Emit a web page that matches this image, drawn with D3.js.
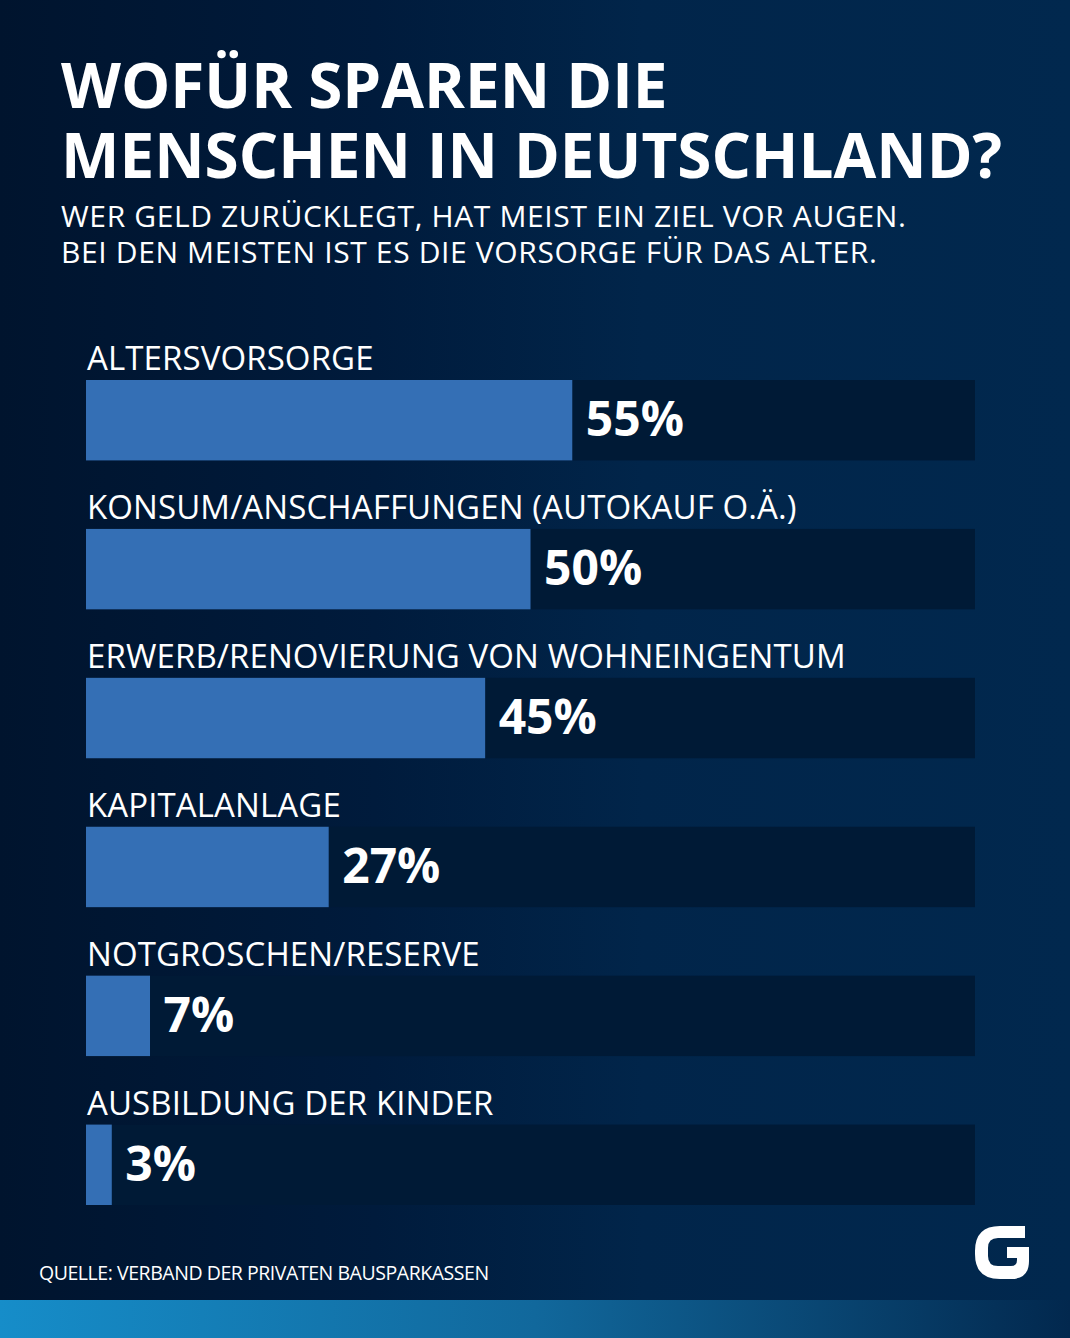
<!DOCTYPE html>
<html>
<head>
<meta charset="utf-8">
<script src="https://cdn.jsdelivr.net/npm/d3@7"></script>
<style>
html, body { margin: 0; padding: 0; background: #00152f; }
svg { display: block; }
text { font-family: "Open Sans", sans-serif; fill: #fff; }
</style>
</head>
<body>
<svg id="chart"></svg>
<script>
const categories = [
    "ALTERSVORSORGE",
    "KONSUM/ANSCHAFFUNGEN (AUTOKAUF O.Ä.)",
    "ERWERB/RENOVIERUNG VON WOHNEINGENTUM",
    "KAPITALANLAGE",
    "NOTGROSCHEN/RESERVE",
    "AUSBILDUNG DER KINDER"
];
// printed percentages
const values = [55, 50, 45, 27, 7, 3];
// bar lengths as they measure in the picture, they differ a little from the printed numbers
const barLengths = [54.7, 50, 44.9, 27.3, 7.2, 2.9];
const titleLines = ["WOFÜR SPAREN DIE", "MENSCHEN IN DEUTSCHLAND?"];
const subtitleLines = [
    "WER GELD ZURÜCKLEGT, HAT MEIST EIN ZIEL VOR AUGEN.",
    "BEI DEN MEISTEN IST ES DIE VORSORGE FÜR DAS ALTER."
];
const source = "QUELLE: VERBAND DER PRIVATEN BAUSPARKASSEN";

const width = 1070, height = 1338;
const svg = d3.select("#chart").attr("width", width).attr("height", height);
const defs = svg.append("defs");

const bg = defs.append("linearGradient").attr("id", "bg");
bg.append("stop").attr("offset", "0%").attr("stop-color", "#00142e");
bg.append("stop").attr("offset", "35%").attr("stop-color", "#001b3c");
bg.append("stop").attr("offset", "60%").attr("stop-color", "#01254a");
bg.append("stop").attr("offset", "100%").attr("stop-color", "#01284e");

const strip = defs.append("linearGradient").attr("id", "strip");
strip.append("stop").attr("offset", "0%").attr("stop-color", "#168dc9");
strip.append("stop").attr("offset", "50%").attr("stop-color", "#11689c");
strip.append("stop").attr("offset", "100%").attr("stop-color", "#02284e");

svg.append("rect").attr("width", width).attr("height", height).attr("fill", "url(#bg)");
svg.append("rect").attr("y", 1300).attr("width", width).attr("height", 38).attr("fill", "url(#strip)");

// heading
svg.append("g").selectAll("text").data(titleLines).join("text")
    .attr("x", 61)
    .attr("y", (d, i) => 107.5 + i * 70.5)
    .attr("font-size", 62)
    .attr("font-weight", 700)
    .text(d => d);

svg.append("g").selectAll("text").data(subtitleLines).join("text")
    .attr("x", 61)
    .attr("y", (d, i) => 227 + i * 36)
    .attr("font-size", 30)
    .attr("letter-spacing", 0.63)
    .text(d => d);

// bars
const x = d3.scaleLinear().domain([0, 100]).range([86, 975]);
const y = d3.scaleBand().domain(categories).range([380, 1205]).paddingInner(0.46).paddingOuter(0);

const rows = svg.append("g").selectAll("g").data(categories).join("g")
    .attr("transform", d => "translate(0," + y(d) + ")");

rows.append("rect")
    .attr("x", x(0))
    .attr("width", x(100) - x(0))
    .attr("height", y.bandwidth())
    .attr("fill", "#001a36");

rows.append("rect")
    .attr("x", x(0))
    .attr("width", (d, i) => x(barLengths[i]) - x(0))
    .attr("height", y.bandwidth())
    .attr("fill", "#346fb5");

rows.append("text")
    .attr("x", x(0) + 1)
    .attr("y", -10)
    .attr("font-size", 33)
    .attr("letter-spacing", 0.1)
    .text(d => d);

rows.append("text")
    .attr("x", (d, i) => x(barLengths[i]) + 13.5)
    .attr("y", 56)
    .attr("font-size", 48)
    .attr("font-weight", 700)
    .text((d, i) => values[i] + "%");

// footer
svg.append("text")
    .attr("x", 39)
    .attr("y", 1280)
    .attr("font-size", 19.5)
    .attr("letter-spacing", -0.45)
    .text(source);

// logo
svg.append("path")
    .attr("d", "M1025 1226H1000Q975 1226 975 1251V1254Q975 1279 1000 1279H1011Q1029 1279 1029 1261V1247H1007V1258H1017V1260Q1017 1266 1011 1266H998Q988 1266 988 1256V1248Q988 1238 998 1238H1025Z")
    .attr("fill", "#fff");
</script>
</body>
</html>
